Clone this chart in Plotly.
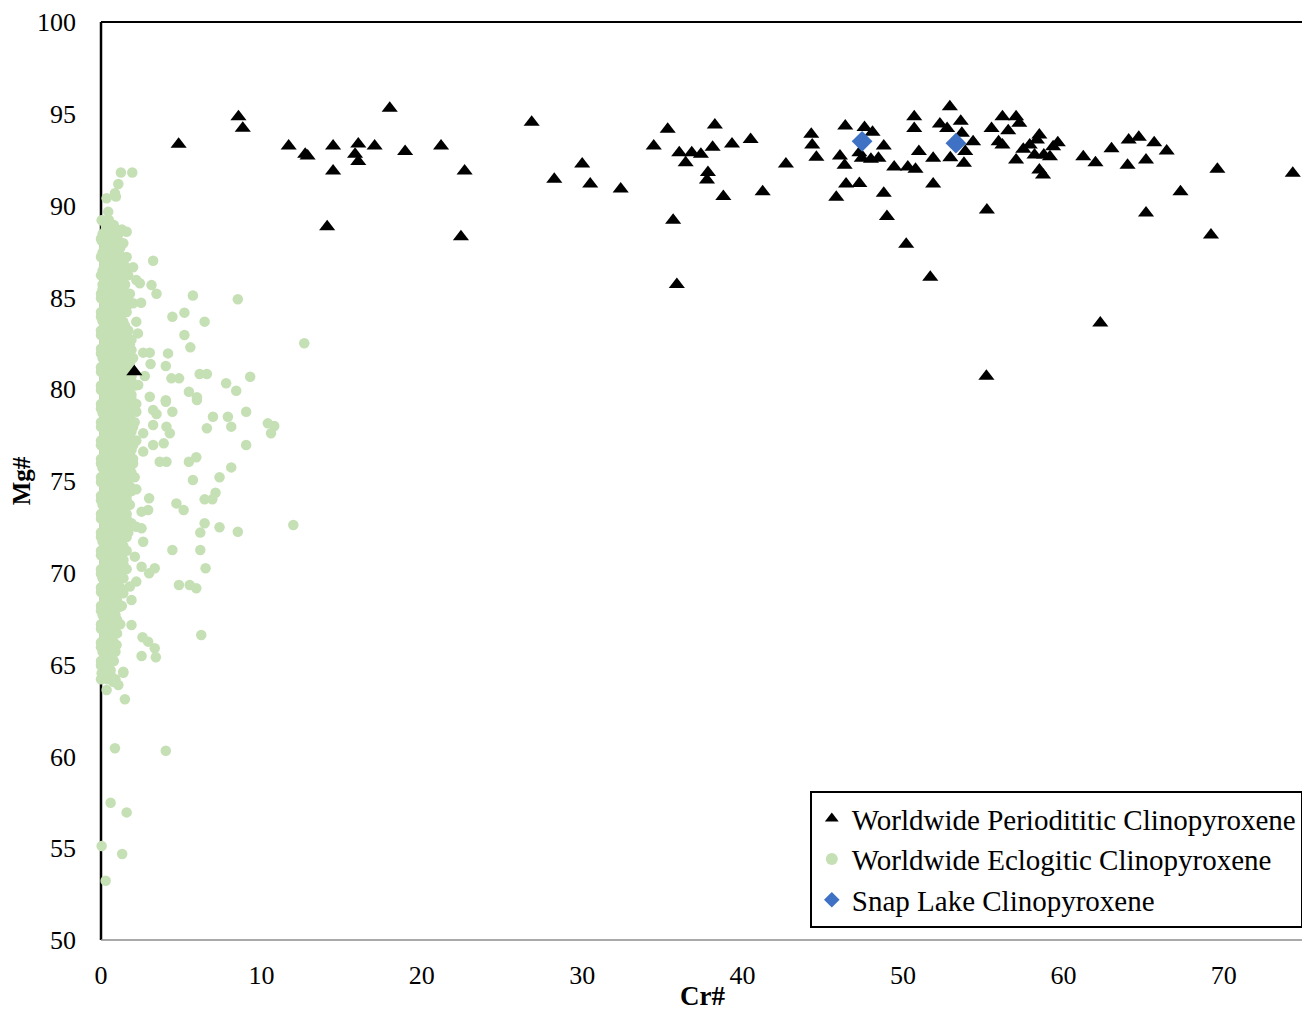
import plotly.graph_objects as go

# ---------------- data ----------------
# Worldwide Periodititic Clinopyroxene (Cr#, Mg#)
perid_cr = [4.84, 8.57, 8.84, 11.7, 12.73, 12.88, 14.47, 14.47, 14.1, 16.04, 15.84, 16.04, 17.06, 18.0,
            18.96, 21.2, 22.67, 22.44, 26.85, 28.26, 30.0, 30.5, 32.4, 34.46, 35.33, 35.67, 36.05, 36.45,
            36.83, 37.4, 37.84, 37.78, 38.13, 38.27, 38.8, 39.34, 40.5, 41.25, 42.7, 44.28, 44.34, 44.6,
            45.84, 46.07, 46.4, 46.36, 46.45, 47.28, 47.28, 47.6, 47.43, 48.0, 48.1, 48.47, 48.8, 48.8,
            49.0, 49.45, 50.2, 50.3, 50.7, 50.7, 50.78, 50.99, 51.88, 51.88, 52.3, 52.75, 52.92, 52.95,
            53.6, 53.67, 53.8, 53.88, 54.37, 55.23, 55.52, 55.96, 56.2, 56.2, 56.56, 57.05, 57.25, 57.05,
            57.5, 57.9, 58.35, 58.5, 58.2, 58.5, 58.73, 58.78, 59.16, 59.36, 59.65, 61.24, 62.0, 63.0,
            64.0, 64.07, 64.7, 65.15, 65.15, 65.66, 66.44, 67.3, 69.2, 69.6, 74.3,
            35.9, 51.7, 55.2, 62.3, 2.08]
perid_mg = [93.34, 94.84, 94.21, 93.25, 92.8, 92.7, 93.25, 91.88, 88.85, 93.35, 92.8, 92.4, 93.25, 95.3,
            92.94, 93.25, 91.88, 88.3, 94.54, 91.43, 92.27, 91.18, 90.9, 93.25, 94.16, 89.2, 92.88, 92.34,
            92.88, 92.8, 91.8, 91.4, 93.18, 94.39, 90.5, 93.36, 93.6, 90.76, 92.27, 93.88, 93.3, 92.63,
            90.45, 92.7, 94.34, 92.2, 91.18, 91.2, 92.88, 94.26, 92.58, 92.52, 94.0, 92.58, 93.25, 90.67,
            89.4, 92.1, 87.9, 92.1, 94.84, 94.2, 91.98, 92.94, 92.58, 91.18, 94.44, 94.2, 95.39, 92.6,
            94.6, 93.94, 92.3, 92.94, 93.48, 89.76, 94.2, 93.48, 94.84, 93.3, 94.08, 94.84, 94.48, 92.48,
            93.07, 93.3, 93.57, 93.85, 92.76, 91.94, 91.67, 92.76, 92.66, 93.2, 93.43, 92.66, 92.34, 93.1,
            92.2, 93.57, 93.72, 92.48, 89.6, 93.43, 92.97, 90.76, 88.4, 91.98, 91.76,
            85.7, 86.1, 80.7, 83.6, 80.95]

# Worldwide Eclogitic Clinopyroxene - scattered points outside the dense core
eclo_cr = [1.24, 1.95, 1.08, 0.87, 0.35, 0.93, 0.45, 0.04, 0.45, 0.97, 1.6, 0.04, 0.87, 1.39, 0.66, 1.6,
           3.25, 2.0, 1.28, 2.2, 3.15, 3.46, 2.42, 5.73, 8.53, 2.0, 2.5, 1.6, 4.45, 5.2, 6.46, 2.2, 1.39,
           2.3, 5.2, 5.57, 12.67, 1.9, 2.63, 3.04, 4.18, 3.09, 4.04, 2.73, 4.39, 4.87, 6.15, 6.6, 7.8, 9.3,
           8.43, 5.48, 5.98, 3.04, 4.04, 2.32, 1.8,
           4.04, 5.98, 2.2, 3.25, 3.46, 4.45, 6.98, 7.91, 9.05, 10.4, 10.8, 10.6, 6.6, 8.12, 9.05, 3.25,
           4.08, 4.29, 2.63, 3.25, 3.91, 2.63, 3.66, 4.08, 5.48, 5.94, 8.12, 7.39, 5.73, 2.2, 3.0, 4.7,
           5.15, 6.46, 7.14, 6.94, 2.94, 2.53, 2.2, 6.46, 6.19, 7.39, 8.53, 11.99, 2.53, 2.63, 4.45, 6.19,
           2.11, 2.53, 3.0, 3.35, 6.52, 4.86, 5.53, 5.94, 2.2, 1.8, 1.9, 1.39, 1.18, 1.9, 2.59, 2.94, 3.35,
           2.53, 3.42, 6.25, 1.39, 0.97, 0.56, 0.14, 0.35, 0.76, 0.87,
           0.04, 0.45, 1.39, 0.76, 0.35, 1.08, 1.49, 0.87, 4.04, 0.6, 1.6, 0.04, 1.32, 0.29]
eclo_mg = [91.8, 91.8, 91.18, 90.67, 90.4, 90.49, 89.67, 89.2, 88.67, 88.67, 88.58, 88.1, 88.13, 87.95,
           87.58, 87.2, 87.0, 86.64, 86.86, 85.95, 85.67, 85.2, 85.77, 85.1, 84.9, 84.68, 84.71, 84.5,
           83.95, 84.17, 83.68, 83.68, 83.68, 83.04, 82.95, 82.28, 82.5, 82.14, 81.99, 81.99, 81.95, 81.37,
           81.26, 80.72, 80.59, 80.59, 80.83, 80.83, 80.32, 80.68, 79.92, 79.86, 79.56, 79.59, 79.4, 80.23,
           81.41,
           79.32, 79.41, 78.77, 78.87, 78.65, 78.77, 78.5, 78.5, 78.77, 78.14, 78.0, 77.6, 77.87, 77.96,
           76.96, 78.05, 77.96, 77.6, 77.6, 76.96, 77.05, 76.6, 76.05, 76.05, 76.05, 76.29, 75.74, 75.2,
           75.05, 74.55, 74.06, 73.78, 73.42, 74.0, 74.36, 74.0, 73.42, 73.33, 72.51, 72.7, 72.19, 72.48,
           72.24, 72.6, 72.42, 71.69, 71.24, 71.24, 70.88, 70.33, 69.97, 70.25, 70.25, 69.34, 69.34, 69.16,
           69.52, 69.25, 68.52, 68.88, 68.15, 67.16, 66.49, 66.25, 65.89, 65.47, 65.4, 66.61, 64.61, 66.07,
           65.43, 66.34, 64.53, 67.6, 66.88,
           64.53, 64.71, 64.56, 64.07, 63.62, 63.89, 63.11, 60.44, 60.31, 57.48, 56.95, 55.12, 54.68, 53.23]

# Eclogitic dense core: rows of (Mg#, [Cr# values])
core_rows = [
    (89.2, [0.1, 0.5]), (88.7, [0.3, 0.8, 1.3]), (88.2, [0.0, 0.5, 1.0]), (87.7, [0.2, 0.7, 1.2]),
    (87.2, [0.0, 0.4, 0.9, 1.3]), (86.7, [0.2, 0.6, 1.1, 1.5]), (86.2, [0.0, 0.4, 0.8, 1.3, 1.7]),
    (85.7, [0.1, 0.6, 1.0, 1.5]), (85.2, [0.0, 0.4, 0.8, 1.2, 1.8]), (84.7, [0.2, 0.6, 1.0, 1.4]),
    (84.2, [0.0, 0.4, 0.8, 1.2, 1.6]), (83.7, [0.1, 0.5, 0.9, 1.3]), (83.2, [0.0, 0.4, 0.8, 1.2, 1.7]),
    (82.7, [0.2, 0.6, 1.0, 1.4, 1.9]), (82.2, [0.0, 0.4, 0.8, 1.2, 1.6]), (81.7, [0.1, 0.5, 0.9, 1.3, 2.0]),
    (81.2, [0.0, 0.4, 0.8, 1.2, 1.6]), (80.7, [0.2, 0.6, 1.0, 1.4, 1.9]),
    (80.2, [0.0, 0.4, 0.8, 1.2, 1.7, 2.1]), (79.7, [0.2, 0.6, 1.0, 1.4, 1.9]),
    (79.2, [0.0, 0.4, 0.8, 1.2, 1.6, 2.2]), (78.7, [0.1, 0.5, 0.9, 1.3, 1.8]),
    (78.2, [0.0, 0.4, 0.8, 1.2, 1.6, 2.1]), (77.7, [0.2, 0.6, 1.0, 1.4, 1.9]),
    (77.2, [0.0, 0.4, 0.8, 1.2, 1.7, 2.2]), (76.7, [0.2, 0.6, 1.0, 1.4, 1.9]),
    (76.2, [0.0, 0.4, 0.8, 1.2, 1.6, 2.0]), (75.7, [0.1, 0.5, 0.9, 1.3, 1.8]),
    (75.2, [0.0, 0.4, 0.8, 1.2, 1.6, 2.1]), (74.7, [0.2, 0.6, 1.0, 1.4, 1.8]),
    (74.2, [0.0, 0.4, 0.8, 1.2, 1.6]), (73.7, [0.1, 0.5, 0.9, 1.3, 1.8]), (73.2, [0.0, 0.4, 0.8, 1.2, 1.6]),
    (72.7, [0.2, 0.6, 1.0, 1.4, 1.9]), (72.2, [0.0, 0.4, 0.8, 1.2, 1.7]), (71.7, [0.1, 0.5, 0.9, 1.3]),
    (71.2, [0.0, 0.4, 0.8, 1.2, 1.6]), (70.7, [0.2, 0.6, 1.0, 1.4]), (70.2, [0.0, 0.4, 0.8, 1.2, 1.6]),
    (69.7, [0.1, 0.5, 0.9, 1.4]), (69.2, [0.0, 0.4, 0.8, 1.2]), (68.7, [0.2, 0.6, 1.0]),
    (68.2, [0.0, 0.4, 0.8, 1.3]), (67.7, [0.1, 0.5, 0.9]), (67.2, [0.0, 0.4, 0.8, 1.2]),
    (66.7, [0.2, 0.6, 1.0]), (66.2, [0.0, 0.4, 0.8]), (65.7, [0.1, 0.5, 0.9]), (65.2, [0.0, 0.4, 0.8]),
    (64.7, [0.2, 0.6]), (64.2, [0.0, 0.4, 0.9]),
    # in-between rows
    (88.95, [0.3, 0.8]), (88.45, [0.1, 0.6, 1.1]), (87.95, [0.3, 0.8, 1.3]), (87.45, [0.1, 0.6, 1.1]),
    (86.95, [0.2, 0.7, 1.2]), (86.45, [0.1, 0.6, 1.0, 1.5]), (85.95, [0.2, 0.7, 1.2]),
    (85.45, [0.1, 0.6, 1.0, 1.4]), (84.95, [0.0, 0.4, 0.8, 1.2, 1.6]), (84.45, [0.2, 0.6, 1.0, 1.4]),
    (83.95, [0.0, 0.4, 0.8, 1.2]), (83.45, [0.2, 0.6, 1.0, 1.5]), (82.95, [0.0, 0.4, 0.8, 1.2, 1.6]),
    (82.45, [0.2, 0.6, 1.0, 1.4, 1.8]), (81.95, [0.0, 0.4, 0.8, 1.2, 1.6]),
    (81.45, [0.2, 0.6, 1.0, 1.4, 1.8]), (80.95, [0.0, 0.4, 0.8, 1.2, 1.7]),
    (80.45, [0.2, 0.6, 1.0, 1.4, 1.9]), (79.95, [0.0, 0.4, 0.8, 1.2, 1.6]),
    (79.45, [0.2, 0.6, 1.0, 1.4, 1.9]), (78.95, [0.0, 0.4, 0.8, 1.2, 1.6, 2.0]),
    (78.45, [0.2, 0.6, 1.0, 1.4, 1.8]), (77.95, [0.0, 0.4, 0.8, 1.2, 1.6, 2.0]),
    (77.45, [0.2, 0.6, 1.0, 1.4, 1.8]), (76.95, [0.0, 0.4, 0.8, 1.2, 1.6, 2.0]),
    (76.45, [0.2, 0.6, 1.0, 1.4, 1.8]), (75.95, [0.0, 0.4, 0.8, 1.2, 1.6, 2.0]),
    (75.45, [0.2, 0.6, 1.0, 1.4, 1.9]), (74.95, [0.0, 0.4, 0.8, 1.2, 1.6]),
    (74.45, [0.2, 0.6, 1.0, 1.4, 1.9]), (73.95, [0.0, 0.4, 0.8, 1.2, 1.6]),
    (73.45, [0.2, 0.6, 1.0, 1.4]), (72.95, [0.0, 0.4, 0.8, 1.2, 1.6]), (72.45, [0.2, 0.6, 1.0, 1.4]),
    (71.95, [0.0, 0.4, 0.8, 1.2, 1.6]), (71.45, [0.2, 0.6, 1.0, 1.4]), (70.95, [0.0, 0.4, 0.8, 1.2]),
    (70.45, [0.2, 0.6, 1.0, 1.4]), (69.95, [0.0, 0.4, 0.8, 1.2]), (69.45, [0.2, 0.6, 1.0]),
    (68.95, [0.0, 0.4, 0.8, 1.1]), (68.45, [0.2, 0.6, 1.0]), (67.95, [0.0, 0.4, 0.7]),
    (67.45, [0.2, 0.6, 1.0]), (66.95, [0.0, 0.4, 0.8]), (66.45, [0.2, 0.6]), (65.95, [0.0, 0.4, 0.7]),
    (65.45, [0.2, 0.6]), (64.95, [0.0, 0.4]), (64.45, [0.2, 0.6]),
]

# Snap Lake Clinopyroxene
snap_cr = [47.45, 53.3]
snap_mg = [93.5, 93.4]

x_ticks = [0, 10, 20, 30, 40, 50, 60, 70]
y_ticks = [50, 55, 60, 65, 70, 75, 80, 85, 90, 95, 100]

# ---------------- build ----------------
core_x = [x for y, xs in core_rows for x in xs]
core_y = [y for y, xs in core_rows for x in xs]
all_eclo_x = core_x + eclo_cr
all_eclo_y = core_y + eclo_mg

FONT = "Liberation Serif, Times New Roman, serif"

fig = go.Figure()
fig.add_trace(go.Scatter(
    x=perid_cr, y=perid_mg, mode="markers", name="Worldwide Periodititic Clinopyroxene",
    marker=dict(symbol="triangle-up", size=14, color="black"), cliponaxis=False, zorder=1,
    legendgroup="a"))
fig.add_trace(go.Scatter(
    x=all_eclo_x, y=all_eclo_y, mode="markers", name="Worldwide Eclogitic Clinopyroxene",
    marker=dict(symbol="circle", size=10.5, color="#C5E0B4"), cliponaxis=False, zorder=0,
    legendgroup="b"))
fig.add_trace(go.Scatter(
    x=snap_cr, y=snap_mg, mode="markers", name="Snap Lake Clinopyroxene",
    marker=dict(symbol="diamond", size=16, color="#3F72C4"), cliponaxis=False, zorder=2,
    legendgroup="c"))

border = [
    dict(x0=0, x1=1, y0=1, y1=1, color="black", w=2),   # top
    dict(x0=0, x1=0, y0=0, y1=1, color="black", w=2.5), # left
    dict(x0=1, x1=1, y0=0, y1=1, color="black", w=2),   # right
    dict(x0=0, x1=1, y0=0, y1=0, color="#8c8c8c", w=1.5),  # bottom
]
shapes = [dict(type="line", xref="x domain", yref="y domain", x0=b["x0"], x1=b["x1"],
               y0=b["y0"], y1=b["y1"], line=dict(color=b["color"], width=b["w"]), layer="below")
          for b in border]

fig.update_layout(
    width=1302, height=1003,
    margin=dict(l=93, r=6, t=14, b=71, autoexpand=False),
    paper_bgcolor="white", plot_bgcolor="white",
    font=dict(family=FONT, color="black", size=25),
    showlegend=True,
    legend=dict(
        x=0.999, y=0.013, xanchor="right", yanchor="bottom",
        bgcolor="white", bordercolor="black", borderwidth=2,
        font=dict(family=FONT, size=29, color="black"),
        itemsizing="constant", traceorder="grouped", tracegroupgap=0,
    ),
    xaxis=dict(
        range=[0, 75], tickvals=x_ticks, showgrid=False, zeroline=False,
        showline=False, ticks="", ticklabelstandoff=17, tickfont=dict(size=26),
        automargin=False,
    ),
    yaxis=dict(
        range=[50, 100], tickvals=y_ticks, showgrid=False, zeroline=False,
        showline=False, ticks="", ticklabelstandoff=24, tickfont=dict(size=26),
        title=dict(text="<b>Mg#</b>", font=dict(size=25), standoff=1),
        automargin=False,
    ),
    shapes=shapes,
    annotations=[dict(text="<b>Cr#</b>", xref="paper", yref="paper", x=0.5, y=0,
                      xanchor="center", yanchor="middle", yshift=-56, showarrow=False,
                      font=dict(family=FONT, size=27, color="black"))],
)

fig.write_html("out.html")
